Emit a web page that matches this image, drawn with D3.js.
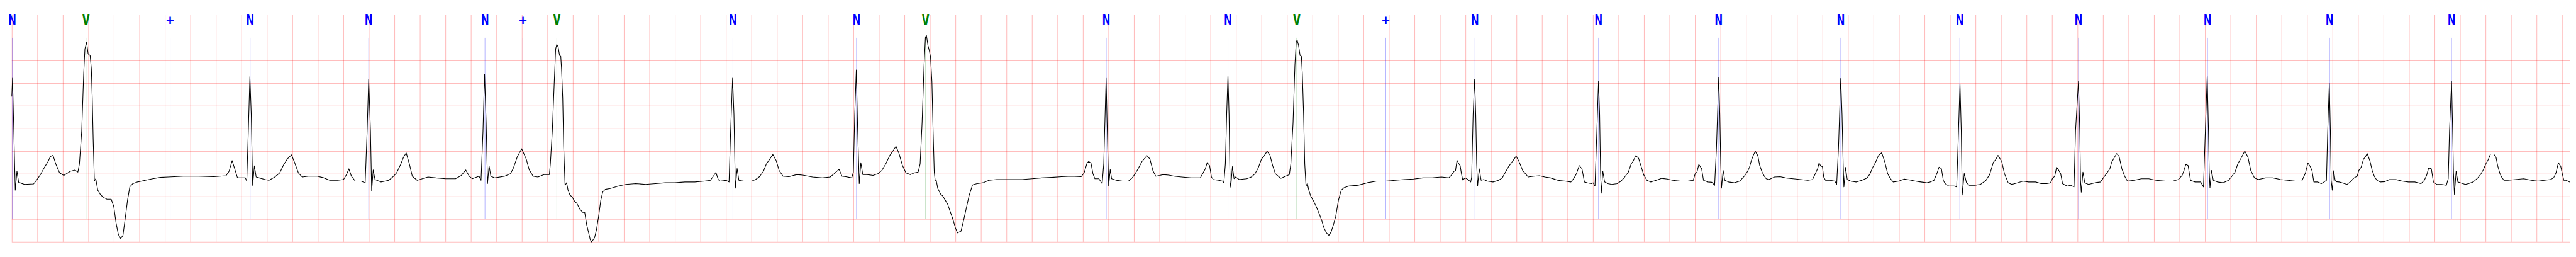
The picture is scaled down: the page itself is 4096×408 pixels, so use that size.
<!DOCTYPE html>
<html><head><meta charset="utf-8">
<script src="https://cdn.jsdelivr.net/npm/d3@7"></script>
<style>html,body{margin:0;padding:0;background:#fff;overflow:hidden}</style>
</head><body><svg id="c" width="4096" height="408"></svg>
<script>
// ECG trace (time in s, amplitude in mV)
const ecgTime = [
0.000,0.0057,0.0272,0.0404,0.0536,0.0991,0.1709,0.2009,0.2284,0.2608,0.2848,0.3027,0.3231,0.3447,0.3746,0.4081,0.4584,0.4944,0.5183,0.5303,0.5483,0.5638,0.5734,0.5866,0.5986,0.6141,0.6237,0.6309,0.6381,0.6477,0.6585,0.6740,0.6980,0.7220,0.7459,0.7795,0.7998,0.8178,0.8357,0.8537,0.8717,0.8897,0.9076,0.9256,0.9495,0.9855,1.0454,1.1053,1.1652,1.2250,1.3448,1.4646,1.5844,1.6802,1.7042,1.7281,1.7521,1.7701,
1.7856,1.8318,1.8426,1.8549,1.8672,1.8780,1.8888,1.9026,1.9165,1.9396,1.9858,2.0166,2.0628,2.1013,2.1321,2.1629,2.1937,2.2168,2.2476,2.2784,2.3246,2.3966,2.4478,2.4940,2.5557,2.6019,2.6250,2.6434,2.6635,2.6943,2.7405,2.7713,2.7867,2.7990,2.8129,2.8221,2.8344,2.8483,2.8945,2.9561,2.9869,3.0177,3.0485,3.0716,3.0931,3.1178,3.1409,3.1794,3.2641,3.3257,3.4027,3.4797,3.5259,3.5598,3.5875,3.6106,3.6645,3.6799,3.6953,3.7076,3.7200,3.7307,3.7430,3.7569,3.7877,3.8647,3.9109,3.9340,3.9648,3.9987,4.0342,4.0573,4.0881,4.1266,4.1728,
4.2004,4.2158,4.2235,4.2389,4.2543,4.2651,4.2743,4.2851,4.2959,4.3051,4.3113,4.3205,4.3282,4.3390,4.3513,4.3621,4.3775,4.3929,4.4160,4.4314,4.4545,4.4776,4.4930,4.5084,4.5238,4.5361,4.5469,4.5700,4.5854,4.6039,4.6193,4.6347,4.6547,4.6932,4.7548,4.8164,4.8934,4.9705,5.0475,5.1245,5.2015,5.2785,5.3555,5.4325,5.4787,5.5018,5.5218,5.5403,5.5557,5.6019,5.6250,5.6373,5.6527,5.6635,5.6743,5.6881,5.7020,5.7405,5.8021,5.8329,5.8637,5.8945,5.9176,5.9407,5.9684,5.9946,6.0177,6.0485,6.0947,6.1563,6.2024,6.2794,6.3565,6.4181,6.4489,6.4874,6.5105,6.5413,6.5875,6.6000,6.6106,
6.6230,6.6338,6.6461,6.6584,6.6738,6.7077,6.7539,6.7924,6.8232,6.8540,6.8848,6.9156,6.9341,6.9572,6.9849,7.0126,7.0465,7.0773,7.1081,7.1235,7.1389,7.1543,7.1651,7.1728,7.1851,7.1959,7.2051,7.2159,7.2252,7.2344,7.2421,7.2498,7.2621,7.2852,7.3006,7.3237,7.3391,7.3545,7.3776,7.4007,7.4161,7.4439,7.4654,7.4855,7.5086,7.5347,7.5701,7.6163,7.6626,7.7242,7.8166,7.9244,8.0014,8.0784,8.1554,8.2324,8.3094,8.3864,8.4095,8.4326,8.4449,8.4634,8.4788,8.4942,8.5250,8.5512,8.5635,8.5820,8.5913,8.6020,8.6144,8.6251,8.6636,8.7098,8.7560,8.7868,8.8099,8.8330,8.8638,8.9023,8.9255,8.9486,8.9717,9.0025,
9.0300,9.0736,9.1173,9.1755,9.2482,9.3209,9.3427,9.3602,9.3747,9.3936,9.4082,9.4227,9.4664,9.4954,9.5056,9.5173,9.5274,9.5376,9.5463,9.5536,9.5594,9.5725,9.5856,9.5973,9.6263,9.6845,9.7209,9.7500,9.7747,9.8009,9.8227,9.8445,9.8664,9.8882,9.9100,9.9318,9.9536,9.9900,10.0191,10.0307,10.0482,10.0627,10.0729,10.0802,10.0918,10.1034,10.1136,10.1209,10.1311,10.1398,10.1500,10.1602,10.1718,10.1863,10.2081,10.2300,10.2518,10.2736,10.2882,10.3100,10.3289,10.3463,10.3652,10.3827,10.4045,10.4263,10.4481,10.4845,10.5572,10.6300,10.7027,10.7754,10.8481,10.9209,10.9936,11.0663,11.1390,11.2118,11.2699,11.2889,
11.3107,11.3223,11.3340,11.3471,11.3587,11.3689,11.3791,11.3980,11.4198,11.4416,11.4489,11.4605,11.4721,11.4809,11.4882,11.4954,11.5085,11.5231,11.5434,11.5725,11.6161,11.6598,11.6889,11.7107,11.7398,11.7689,11.7980,11.8198,11.8489,11.8707,11.8925,11.9361,11.9798,12.0234,12.0670,12.1252,12.1834,12.2270,12.2489,12.2707,12.2925,12.3143,12.3332,12.3579,12.3870,12.4016,12.4161,12.4307,12.4438,12.4525,12.4598,12.4656,12.4773,12.4918,12.5180,12.5471,12.5907,12.6198,12.6489,12.6780,12.6998,12.7143,12.7361,12.7579,12.7797,12.7972,12.8234,12.8525,12.8961,12.9397,12.9834,13.0270,13.0852,13.1434,13.1870,13.2016,13.2161,13.2307,13.2525,13.2670,13.3034,13.3325,13.3543,13.3689,13.3863,13.3950,13.4023,13.4081,13.4212,13.4343,13.4634,13.5070,13.5507,13.5870,
13.5914,13.6132,13.6278,13.6423,13.6569,13.6729,13.6932,13.7078,13.7267,13.7441,13.7587,13.7805,13.8241,13.8678,13.9114,13.9696,14.0278,14.0859,14.1223,14.1441,14.1616,14.1732,14.1877,14.1994,14.2096,14.2241,14.2605,14.2968,14.3114,14.3259,14.3434,14.3536,14.3623,14.3681,14.3812,14.3943,14.4205,14.4641,14.5078,14.5514,14.5732,14.5950,14.6168,14.6387,14.6648,14.6896,14.7114,14.7332,14.7550,14.7987,14.8423,14.8859,14.9296,14.9732,15.0168,15.0459,15.0750,15.0968,15.1143,15.1332,15.1477,15.1623,15.1914,15.2350,15.2525,15.2670,15.2786,15.2888,15.2961,15.3121,15.3296,15.3514,15.3950,15.4387,15.4823,15.5114,15.5405,15.5579,15.5768,15.6059,15.6277,15.6568,15.6859,15.7296,15.7732,15.8168,15.8677,
15.8720,15.9156,15.9593,15.9884,16.0029,16.0218,16.0364,16.0538,16.0684,16.0829,16.1193,16.1484,16.1731,16.1847,16.2080,16.2182,16.2240,16.2298,16.2429,16.2574,16.2865,16.3374,16.3811,16.4029,16.4320,16.4538,16.4683,16.4902,16.5076,16.5265,16.5483,16.5702,16.5920,16.6429,16.7011,16.7593,16.8174,16.8902,16.9483,16.9920,17.0211,17.0356,17.0502,17.0676,17.0865,17.1229,17.1665,17.1883,17.2029,17.2174,17.2276,17.2334,17.2392,17.2509,17.2654,17.2974,17.3410,17.3847,17.4065,17.4356,17.4574,17.4865,17.5127,17.5374,17.5592,17.5883,17.6174,17.6756,17.7338,17.7919,17.8501,17.9083,17.9592,17.9883,18.0072,18.0247,18.0392,18.0538,18.0829,18.1120,18.1338,
18.1527,18.1626,18.1750,18.1836,18.1898,18.1985,18.2096,18.2207,18.2294,18.2517,18.2764,18.3135,18.3383,18.3692,18.3939,18.4063,18.4249,18.4435,18.4558,18.4719,18.4929,18.5115,18.5276,18.5486,18.5734,18.6105,18.6476,18.6971,18.7466,18.7960,18.8455,18.8950,18.9198,18.9383,18.9544,18.9754,18.9915,19.0187,19.0558,19.0930,19.1078,19.1177,19.1338,19.1425,19.1487,19.1561,19.1697,19.1833,19.2043,19.2414,19.2662,19.3033,19.3404,19.3651,19.3837,19.4023,19.4208,19.4394,19.4641,19.4827,19.4951,19.5136,19.5260,19.5446,19.5755,19.6373,19.6992,19.7611,19.8105,19.8600,19.9095,19.9342,19.9528,19.9714,19.9899,20.0023,20.0147,20.0332,20.0580,20.0629
];
const ecgMv = [
1.703,2.109,-0.362,0.054,-0.188,-0.236,-0.225,-0.116,0.000,0.163,0.272,0.380,0.406,0.217,0.018,-0.036,0.054,0.080,0.036,0.217,0.942,2.210,2.754,2.899,2.645,2.609,2.319,1.667,0.761,-0.163,-0.109,-0.362,-0.471,-0.525,-0.562,-0.562,-0.725,-1.087,-1.341,-1.431,-1.359,-0.978,-0.580,-0.290,-0.217,-0.181,-0.145,-0.109,-0.080,-0.072,-0.054,-0.054,-0.065,-0.043,0.054,0.290,0.072,-0.091,
-0.091,-0.091,-0.163,0.942,2.145,1.304,-0.254,0.174,-0.072,-0.091,-0.127,-0.145,-0.072,0.018,0.199,0.333,0.417,0.254,0.018,-0.072,-0.054,-0.054,-0.091,-0.145,-0.145,-0.127,-0.018,0.109,-0.054,-0.163,-0.163,-0.199,0.942,2.091,0.942,-0.380,0.083,-0.127,-0.181,-0.145,-0.072,0.018,0.199,0.362,0.460,0.217,-0.054,-0.145,-0.072,-0.091,-0.109,-0.109,-0.036,0.083,-0.054,-0.109,-0.054,-0.145,0.942,2.199,1.123,-0.217,0.174,-0.054,-0.091,-0.054,0.000,0.127,0.380,0.551,0.326,0.091,-0.054,-0.072,-0.018,
-0.018,-0.018,0.217,0.942,2.029,2.754,2.855,2.790,2.609,2.591,2.319,1.667,0.580,-0.254,-0.199,-0.362,-0.471,-0.507,-0.616,-0.652,-0.779,-0.851,-0.851,-1.123,-1.304,-1.449,-1.504,-1.413,-1.232,-0.906,-0.580,-0.399,-0.344,-0.326,-0.272,-0.236,-0.217,-0.236,-0.217,-0.199,-0.199,-0.181,-0.181,-0.163,-0.145,-0.054,0.029,-0.127,-0.163,-0.145,-0.181,0.942,2.109,1.304,-0.319,0.116,-0.145,-0.163,-0.163,-0.127,-0.065,0.054,0.217,0.308,0.424,0.290,0.072,-0.054,-0.065,-0.018,-0.029,-0.072,-0.091,-0.072,0.000,0.098,-0.054,-0.065,-0.091,0.036,1.304,
2.290,0.942,-0.217,0.243,-0.018,-0.018,-0.036,0.000,0.072,0.217,0.399,0.525,0.605,0.453,0.181,0.018,-0.018,0.018,0.036,0.217,1.123,2.391,3.007,3.054,2.826,2.710,2.572,2.029,0.942,0.036,-0.163,-0.145,-0.326,-0.453,-0.489,-0.598,-0.670,-0.797,-0.978,-1.196,-1.304,-1.268,-1.014,-0.761,-0.471,-0.246,-0.217,-0.199,-0.145,-0.127,-0.127,-0.127,-0.109,-0.091,-0.080,-0.065,-0.054,-0.065,0.018,0.236,0.272,0.236,0.000,-0.109,-0.109,-0.217,0.217,2.109,0.942,-0.272,0.091,-0.109,-0.145,-0.163,-0.163,-0.091,0.000,0.109,0.272,0.399,0.326,0.072,-0.054,-0.036,
-0.018,-0.029,-0.054,-0.072,-0.091,-0.091,0.018,0.109,0.246,0.181,-0.072,-0.127,-0.145,-0.163,-0.199,0.217,1.304,2.167,1.304,-0.145,-0.297,0.156,-0.109,-0.072,-0.127,-0.109,-0.072,0.000,0.127,0.326,0.399,0.496,0.417,0.181,0.000,-0.054,-0.101,-0.054,-0.018,0.217,1.123,2.391,2.899,2.953,2.826,2.609,2.591,2.210,1.304,0.217,-0.272,-0.210,-0.362,-0.489,-0.598,-0.725,-0.870,-1.033,-1.178,-1.304,-1.359,-1.286,-1.123,-0.942,-0.580,-0.362,-0.308,-0.272,-0.254,-0.199,-0.163,-0.163,-0.145,-0.127,-0.116,-0.091,-0.091,-0.072,-0.091,-0.036,
0.054,0.072,0.297,0.225,0.181,0.000,-0.138,-0.091,-0.127,-0.181,-0.072,1.304,2.083,1.304,0.217,-0.272,0.109,-0.145,-0.127,-0.163,-0.181,-0.145,-0.091,0.018,0.163,0.272,0.388,0.272,0.072,0.000,-0.072,-0.054,-0.043,-0.072,-0.091,-0.145,-0.163,-0.181,-0.109,0.000,0.181,0.109,-0.181,-0.199,-0.217,-0.199,-0.272,0.942,2.047,1.304,0.036,-0.428,0.054,-0.181,-0.217,-0.236,-0.217,-0.163,-0.072,0.036,0.217,0.272,0.399,0.344,0.145,-0.018,-0.145,-0.181,-0.145,-0.101,-0.116,-0.145,-0.163,-0.163,-0.145,0.000,0.036,0.207,0.109,-0.145,-0.181,-0.188,-0.254,0.580,2.120,1.304,0.217,-0.319,0.072,-0.145,-0.181,-0.199,-0.163,-0.054,
-0.036,0.054,0.145,0.290,0.399,0.496,0.399,0.181,0.036,-0.054,-0.109,-0.127,-0.072,-0.065,-0.091,-0.109,-0.127,-0.145,-0.127,0.000,0.109,0.236,0.163,0.163,-0.072,-0.145,-0.145,-0.163,-0.236,0.580,2.101,1.304,0.217,-0.290,0.138,-0.127,-0.163,-0.181,-0.145,-0.091,0.000,0.145,0.254,0.399,0.464,0.254,0.000,-0.109,-0.181,-0.163,-0.116,-0.138,-0.163,-0.181,-0.199,-0.181,-0.145,0.000,0.145,0.109,-0.145,-0.217,-0.272,-0.272,-0.290,0.942,1.993,0.942,-0.471,0.007,-0.199,-0.254,-0.254,-0.236,-0.145,-0.018,0.254,0.308,0.406,0.272,0.000,-0.199,-0.236,-0.199,-0.163,-0.181,-0.181,
-0.181,-0.217,-0.217,-0.199,-0.109,-0.054,0.145,0.072,0.000,-0.217,-0.272,-0.254,-0.290,0.942,2.047,0.942,-0.145,-0.409,0.036,-0.199,-0.236,-0.199,-0.181,-0.091,0.018,0.109,0.254,0.362,0.446,0.381,0.109,-0.054,-0.163,-0.145,-0.109,-0.109,-0.145,-0.163,-0.163,-0.127,-0.036,0.072,0.207,0.181,-0.145,-0.181,-0.181,-0.290,0.942,2.156,0.942,0.036,-0.308,0.072,-0.145,-0.181,-0.199,-0.145,-0.072,0.036,0.217,0.362,0.500,0.362,0.072,-0.091,-0.127,-0.091,-0.091,-0.127,-0.145,-0.163,-0.163,0.018,0.236,0.163,0.072,-0.181,-0.181,-0.217,-0.181,
-0.145,0.942,2.000,0.942,-0.145,-0.362,0.065,-0.145,-0.174,-0.181,-0.199,-0.236,-0.181,-0.091,-0.054,0.072,0.145,0.326,0.362,0.446,0.290,0.072,-0.054,-0.145,-0.181,-0.174,-0.127,-0.127,-0.163,-0.181,-0.181,-0.217,-0.145,-0.036,0.127,0.109,-0.181,-0.236,-0.236,-0.254,-0.109,0.942,2.036,0.942,0.036,-0.453,0.054,-0.181,-0.199,-0.236,-0.217,-0.181,-0.091,0.000,0.091,0.217,0.308,0.435,0.435,0.362,0.181,0.000,-0.072,-0.145,-0.145,-0.127,-0.109,-0.145,-0.163,-0.145,-0.127,-0.091,0.018,0.243,0.163,0.000,-0.145,-0.145,-0.181,-0.174
];
// Beat annotations
const annTime = [0.004,0.5818,1.2418,1.8688,2.799,3.711,4.008,4.2745,5.6557,6.6244,7.1667,8.5833,9.5377,10.0774,10.7754,11.4751,12.4438,13.3862,14.3435,15.2772,16.2080,17.2203,18.1776,19.1338];
const annSymbol = ["N","V","+","N","N","N","+","V","N","N","V","N","N","V","+","N","N","N","N","N","N","N","N","N"];
// Grid values
const yGridValues = [3, 2.5, 2, 1.5, 1, 0.5, 0, -0.5, -1, -1.5];
const xGridValues = d3.range(0, 101).map(i => +(i * 0.2).toFixed(1));
const timeDomain = [0, 20.063];
const mvDomain = [-1.5, 3.5];

const symbolColor = {"N": "#0000ff", "V": "#008000", "+": "#0000ff"};

const S = 0.544;
const pL = 34.5 * S, pR = 7512 * S, pT = 44 * S, pB = 705.5 * S;
const svg = d3.select("#c");
const x = d3.scaleLinear().domain(timeDomain).range([pL, pR]);
const y = d3.scaleLinear().domain(mvDomain).range([pB, pT]);

// vertical grid
const gx = svg.append("g").attr("transform", `translate(0,${pB})`)
  .call(d3.axisBottom(x).tickValues(xGridValues).tickSize(-(pB - pT)).tickFormat(""));
gx.select(".domain").remove();
gx.selectAll("line").attr("stroke", "#ff0000").attr("stroke-opacity", 0.26).attr("stroke-width", 2 * S);

// horizontal grid
const gy = svg.append("g").attr("transform", `translate(${pL},0)`)
  .call(d3.axisLeft(y).tickValues(yGridValues).tickSize(-(pR - pL)).tickFormat(""));
gy.select(".domain").remove();
gy.selectAll("line").attr("stroke", "#ff0000").attr("stroke-opacity", 0.26).attr("stroke-width", 2 * S);

// annotation lines
svg.append("g").selectAll("line").data(annTime).join("line")
  .attr("x1", d => x(d)).attr("x2", d => x(d))
  .attr("y1", y(3.0)).attr("y2", y(-1.0))
  .attr("stroke", (d, i) => symbolColor[annSymbol[i]])
  .attr("stroke-opacity", 0.5).attr("stroke-width", 1.1 * S);

// signal
const pts = ecgTime.map((t, i) => [t, ecgMv[i]]);
svg.append("path").datum(pts)
  .attr("fill", "none").attr("stroke", "#000").attr("stroke-width", 2 * S)
  .attr("stroke-linejoin", "round")
  .attr("d", d3.line().x(d => x(d[0])).y(d => y(d[1])));

// labels
svg.append("g").selectAll("text").data(annTime).join("text")
  .attr("x", d => x(d)).attr("y", 71.7 * S)
  .attr("text-anchor", "middle")
  .attr("font-family", "'DejaVu Sans Mono', monospace")
  .attr("font-weight", "bold")
  .attr("font-size", 38 * S)
  .attr("fill", (d, i) => symbolColor[annSymbol[i]])
  .text((d, i) => annSymbol[i]);
</script>
</body></html>
